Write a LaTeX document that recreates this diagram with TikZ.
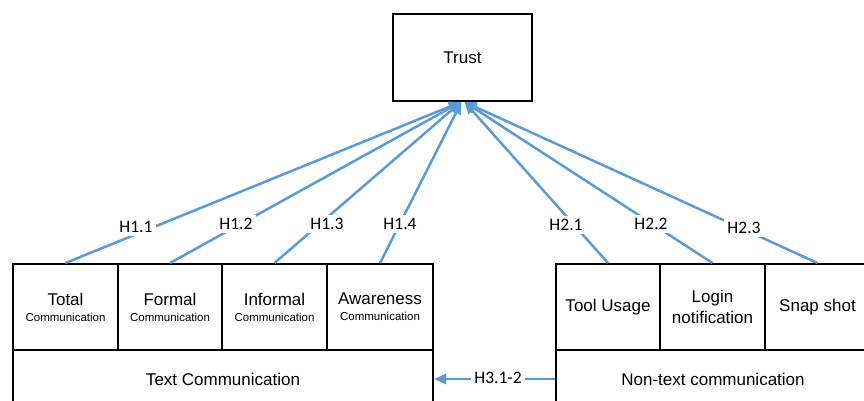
\documentclass[tikz,border=0pt]{standalone}
\usepackage{fontspec}
\setmainfont{Liberation Sans}
\newfontfamily\hypfont{Carlito}
\usetikzlibrary{arrows.meta}
\definecolor{linkblue}{RGB}{91,155,213}
\newcommand{\bigtext}{\fontsize{17}{20.5}\selectfont}
\newcommand{\subtext}{\fontsize{11.5}{13}\selectfont}
\tikzset{
  cell/.style={draw=black, line width=2pt, anchor=north west, inner sep=0pt,
    align=center, font=\bigtext},
  link/.style={draw=linkblue, line width=2.5pt,
    -{Triangle[length=12pt,width=10pt]}},
  hyp/.style={fill=white, inner sep=3pt, font=\hypfont\fontsize{17.5}{19}\selectfont}
}
\begin{document}
\begin{tikzpicture}[x=1pt,y=-1pt]
\useasboundingbox (0,0) rectangle (864,400);
\clip (0,0) rectangle (864,400);

% construct at the top
\node[cell, minimum width=139pt, minimum height=87pt] (trust) at (392,13) {Trust};

% text communication block
\node[cell, minimum width=105pt, minimum height=86pt] (total) at (12,263)
  {Total\\[-4.5pt]{\subtext Communication}};
\node[cell, minimum width=104pt, minimum height=86pt] (formal) at (117,263)
  {Formal\\[-4.5pt]{\subtext Communication}};
\node[cell, minimum width=105pt, minimum height=86pt] (informal) at (221,263)
  {Informal\\[-4.5pt]{\subtext Communication}};
\node[cell, minimum width=106pt, minimum height=86pt] (aware) at (326,263)
  {Awareness\\[-4.5pt]{\subtext Communication}};
\node[cell, minimum width=420pt, minimum height=58pt] (textcomm) at (12,349)
  {Text Communication};

% non-text communication block
\node[cell, minimum width=104pt, minimum height=86pt] (tool) at (555,263) {Tool Usage};
\node[cell, minimum width=105pt, minimum height=86pt] (login) at (659,263)
  {Login\\notification};
\node[cell, minimum width=105pt, minimum height=86pt] (snap) at (764,263) {Snap shot};
\node[cell, minimum width=314pt, minimum height=58pt] (nontext) at (555,349)
  {Non-text communication};

% hypothesised paths
\draw[link] (total.north) -- ([xshift=-1.5pt]trust.south);
\draw[link] (formal.north) -- ([xshift=-1.5pt]trust.south);
\draw[link] (informal.north) -- ([xshift=-1.5pt]trust.south);
\draw[link] (aware.north) -- ([xshift=-1pt]trust.south);
\draw[link] (tool.north) -- ([xshift=2pt]trust.south);
\draw[link] (login.north) -- ([xshift=2pt]trust.south);
\draw[link] (snap.north) -- ([xshift=2pt]trust.south);
\draw[link] (nontext.west) -- (textcomm.east);

% hypothesis labels
\node[hyp] (h11) at (136,227) {H1.1};
\node[hyp] (h12) at (236,224) {H1.2};
\node[hyp] (h13) at (327,224) {H1.3};
\node[hyp] (h14) at (400,224) {H1.4};
\node[hyp] (h21) at (566,225) {H2.1};
\node[hyp] (h22) at (651,224) {H2.2};
\node[hyp] (h23) at (744,228) {H2.3};
\node[hyp] (h3) at (498,378) {H3.1-2};
\end{tikzpicture}
\end{document}
